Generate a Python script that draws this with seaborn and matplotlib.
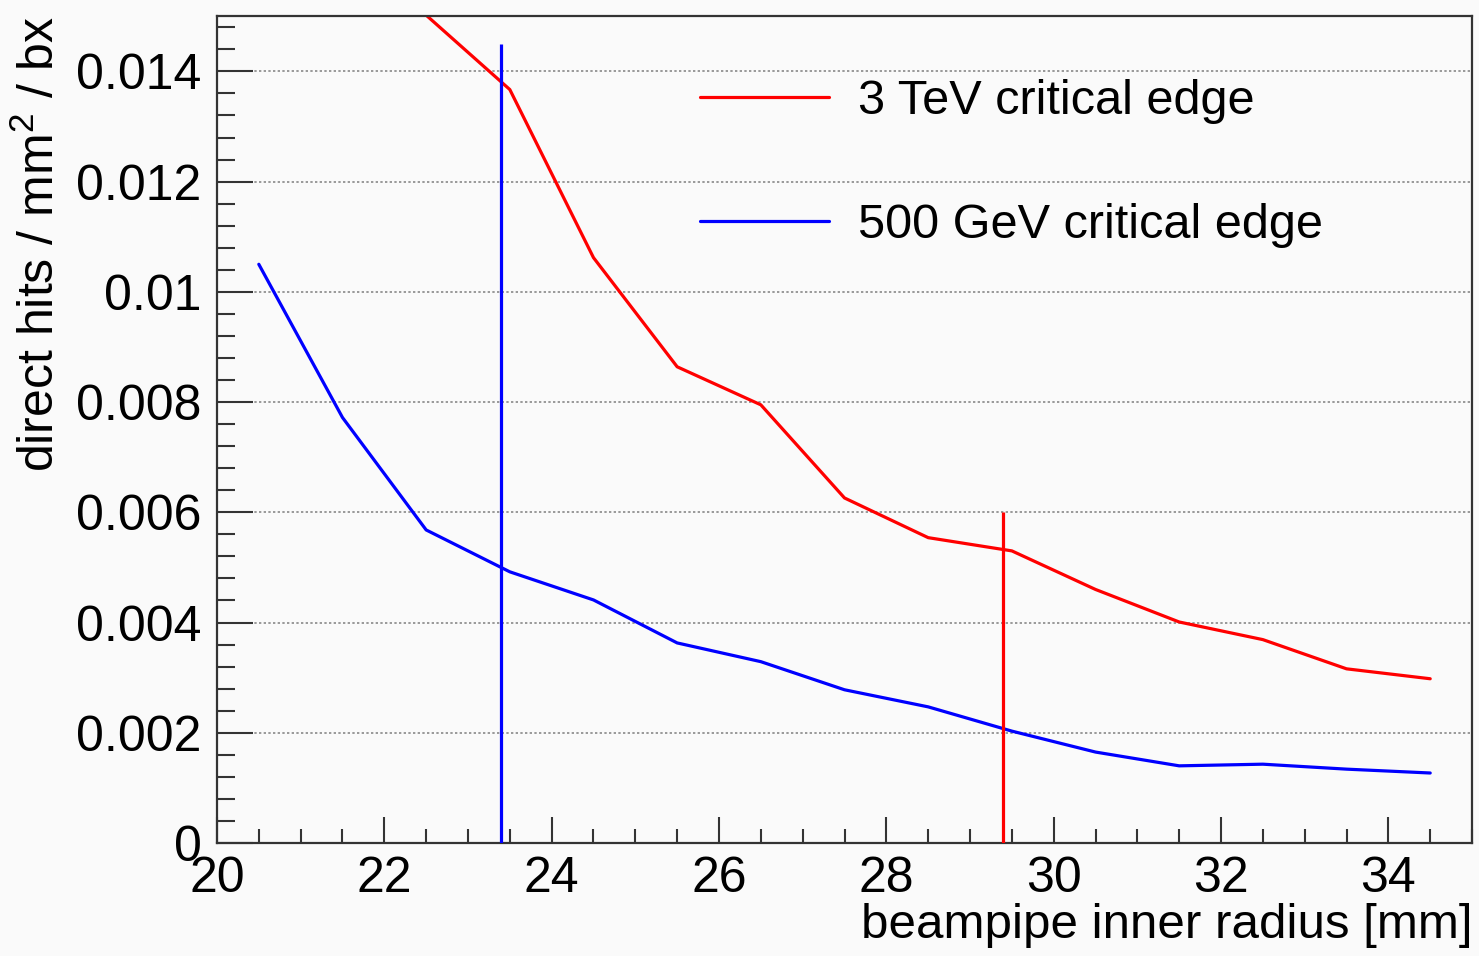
import numpy as np
import pandas as pd
import matplotlib
matplotlib.use("Agg")
import matplotlib.pyplot as plt
import seaborn as sns
from matplotlib.ticker import MultipleLocator, FixedLocator

# ---- data ----
radius_3tev = [22.5, 23.5, 24.5, 25.5, 26.5, 27.5, 28.5, 29.5, 30.5, 31.5, 32.5, 33.5, 34.5]
hits_3tev = [0.01502, 0.01367, 0.01062, 0.00864, 0.00795, 0.00626, 0.00554, 0.00530,
             0.00460, 0.00401, 0.00369, 0.00316, 0.00298]
radius_500gev = [20.5, 21.5, 22.5, 23.5, 24.5, 25.5, 26.5, 27.5, 28.5, 29.5, 30.5, 31.5, 32.5, 33.5, 34.5]
hits_500gev = [0.01050, 0.00772, 0.00568, 0.00492, 0.00441, 0.00363, 0.00329, 0.00278,
               0.00247, 0.00203, 0.00165, 0.00140, 0.00143, 0.00134, 0.00127]
series_labels = ["3 TeV critical edge", "500 GeV critical edge"]
series_colors = ["#ff0000", "#0000ff"]
edge_x = [29.4, 23.4]          # vertical markers (3 TeV, 500 GeV)
edge_top = [0.0060, 0.0145]
y_ticks = [0, 0.002, 0.004, 0.006, 0.008, 0.01, 0.012, 0.014]
y_ticklabels = ["0", "0.002", "0.004", "0.006", "0.008", "0.01", "0.012", "0.014"]
x_ticks = [20, 22, 24, 26, 28, 30, 32, 34]
x_ticklabels = ["20", "22", "24", "26", "28", "30", "32", "34"]

df = pd.concat([
    pd.DataFrame({"r": radius_3tev, "hits": hits_3tev, "series": series_labels[0]}),
    pd.DataFrame({"r": radius_500gev, "hits": hits_500gev, "series": series_labels[1]}),
])

sns.set_style("ticks")
plt.rcParams["font.family"] = ["Liberation Sans", "DejaVu Sans"]
plt.rcParams["mathtext.fontset"] = "custom"
plt.rcParams["mathtext.rm"] = "Liberation Sans"
plt.rcParams["text.color"] = "black"
plt.rcParams["axes.labelcolor"] = "black"
plt.rcParams["xtick.color"] = "black"
plt.rcParams["ytick.color"] = "black"

fig = plt.figure(figsize=(14.79, 9.56), dpi=100, facecolor="#fafafa")
ax = fig.add_axes([0.1467, 0.1182, 0.9953 - 0.1467, 0.983 - 0.1182])
ax.set_facecolor("#fafafa")

sns.lineplot(data=df, x="r", y="hits", hue="series", hue_order=series_labels,
             palette=series_colors, linewidth=2.3, ax=ax, sort=False, estimator=None)

for xv, top, c in zip(edge_x, edge_top, series_colors):
    ax.vlines(xv, 0, top, color=c, linewidth=2.3, zorder=3)

ax.set_xlim(20, 35)
ax.set_ylim(0, 0.015)

ax.xaxis.set_major_locator(FixedLocator(x_ticks))
ax.set_xticklabels(x_ticklabels)
ax.xaxis.set_minor_locator(MultipleLocator(0.5))
ax.yaxis.set_major_locator(FixedLocator(y_ticks))
ax.set_yticklabels(y_ticklabels)
ax.yaxis.set_minor_locator(MultipleLocator(0.0004))

ax.tick_params(axis="both", which="both", direction="in", top=False, right=False,
               color="#333333", labelcolor="black")
ax.tick_params(axis="x", which="major", length=19, width=1.5, labelsize=36, pad=9)
ax.tick_params(axis="x", which="minor", length=10, width=1.5)
ax.tick_params(axis="y", which="major", length=26, width=1.5, labelsize=36, pad=11)
ax.tick_params(axis="y", which="minor", length=13, width=1.5)

ax.yaxis.grid(True, which="major", linestyle=(0, (1.2, 1.2)), color="#999999", linewidth=1.4)
ax.set_axisbelow(True)

for s in ax.spines.values():
    s.set_linewidth(1.6)
    s.set_color("#333333")

ax.set_xlabel("beampipe inner radius [mm]", fontsize=35.5, loc="right")
ax.xaxis.set_label_coords(1.0, -0.072)
ax.xaxis.label.set_va("top")
ax.set_ylabel("direct hits / mm$^2$ / bx", fontsize=36, loc="top")
ax.yaxis.set_label_coords(-0.122, 1.0)

leg = ax.legend(loc="upper left", bbox_to_anchor=(0.385, 0.924), frameon=False,
                fontsize=35, handlelength=2.65, handletextpad=0.6, labelspacing=1.63,
                borderpad=0, borderaxespad=0)
for h in leg.get_lines():
    h.set_linewidth(2.3)

fig.savefig("out.png", dpi=100, facecolor=fig.get_facecolor())
